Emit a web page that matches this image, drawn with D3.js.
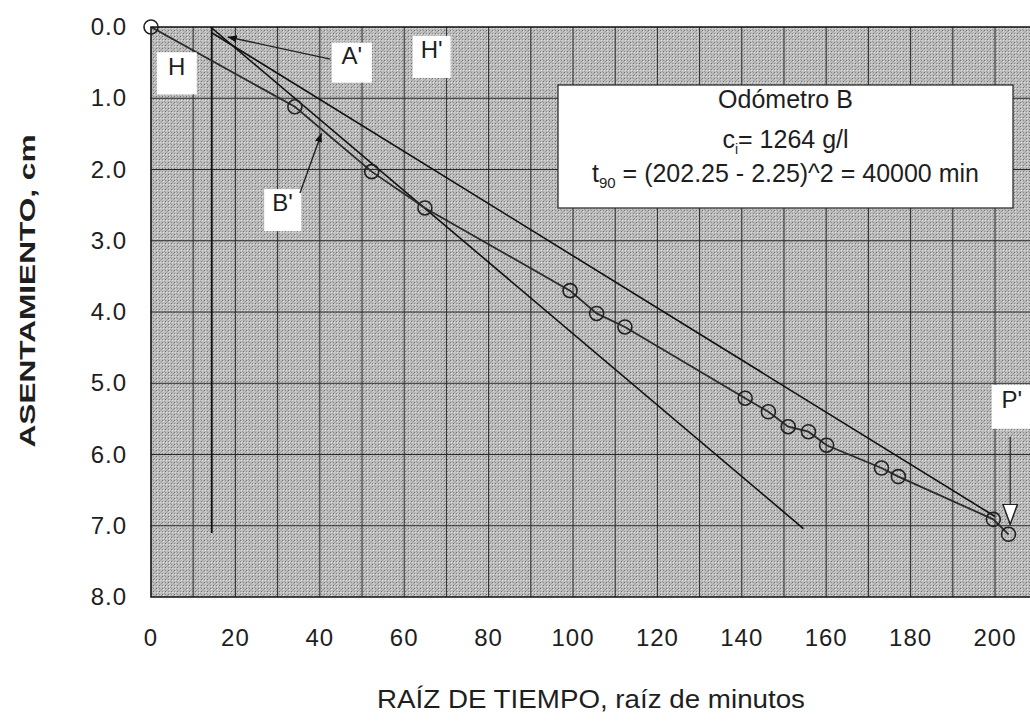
<!DOCTYPE html>
<html>
<head>
<meta charset="utf-8">
<script src="https://cdn.jsdelivr.net/npm/d3@7"></script>
<style>
  html, body { margin: 0; padding: 0; background: #ffffff; }
  svg { display: block; }
  text { font-family: "Liberation Sans", Arial, sans-serif; fill: #1e1e1e; }
</style>
</head>
<body>
<svg id="chart" width="1030" height="724"></svg>
<script>
// ---- data ----
const sqrtTime   = [0, 34.1, 52.3, 64.9, 99.3, 105.6, 112.3, 140.8, 146.3, 151.0, 155.8, 160.1, 173.1, 177.1, 199.6, 203.2];
const settlement = [0, 1.12, 2.03, 2.54, 3.70, 4.02, 4.21, 5.21, 5.40, 5.61, 5.68, 5.87, 6.19, 6.31, 6.91, 7.12];

const xTicks = [0, 20, 40, 60, 80, 100, 120, 140, 160, 180, 200];
const yTicks = [0, 1, 2, 3, 4, 5, 6, 7, 8];
const xGrid  = [10, 20, 30, 40, 50, 60, 70, 80, 90, 100, 110, 120, 130, 140, 150, 160, 170, 180, 190, 200];
const yGrid  = [1, 2, 3, 4, 5, 6, 7];

// construction lines (x = sqrt time, y = settlement)
const steepLineX    = [14.1, 154.6];
const steepLineY    = [0.0, 7.04];
const upperLineX    = [14.4, 200.0];
const upperLineY    = [0.08, 6.87];
const verticalLineX = [14.4, 14.4];
const verticalLineY = [0.0, 7.1];

// annotation labels
const labelNames = ["H", "A'", "H'", "B'", "P'"];
const labelX     = [6.1, 47.6, 66.5, 31.2, 204.0];
const labelY     = [0.65, 0.50, 0.42, 2.57, 5.33];

// arrows
const arrowAx = [42.5, 18.2];  const arrowAy = [0.45, 0.14];
const arrowBx = [35.3, 40.4];  const arrowBy = [2.33, 1.49];
const arrowPx = [203.6, 203.6]; const arrowPy = [5.75, 6.98];

const boxLines = ["Odómetro B", "c", "t"];

// ---- drawing ----
const svg = d3.select("#chart");
const x = d3.scaleLinear().domain([0, 200]).range([151, 995]);
const y = d3.scaleLinear().domain([0, 8]).range([27, 597]);
const xMax = 212;

const defs = svg.append("defs");
defs.append("clipPath").attr("id", "clip")
  .append("rect").attr("x", x(0)).attr("y", y(0))
  .attr("width", x(xMax) - x(0)).attr("height", y(8) - y(0));

// halftone-like background pattern (purely decorative texture)
const pat = defs.append("pattern").attr("id", "dither")
  .attr("width", 6).attr("height", 6).attr("patternUnits", "userSpaceOnUse");
pat.append("rect").attr("width", 6).attr("height", 6).attr("fill", "#bdbdbd");
[[0,0,"#6e6e6e"],[3,3,"#6e6e6e"],[3,0,"#8c8c8c"],[0,3,"#8c8c8c"],
 [1,1,"#d8d8d8"],[4,4,"#d8d8d8"],[5,1,"#999"],[2,5,"#999"],[1,4,"#e0e0e0"],[4,2,"#a0a0a0"]]
  .forEach(p => pat.append("rect").attr("x", p[0]).attr("y", p[1])
    .attr("width", 1).attr("height", 1).attr("fill", p[2]));

svg.append("rect")
  .attr("x", x(0)).attr("y", y(0))
  .attr("width", x(xMax) - x(0)).attr("height", y(8) - y(0))
  .attr("fill", "url(#dither)");

const plot = svg.append("g").attr("clip-path", "url(#clip)");

// gridlines
plot.selectAll("line.vg").data(xGrid).join("line").attr("class", "vg")
  .attr("x1", d => x(d)).attr("x2", d => x(d))
  .attr("y1", y(0)).attr("y2", y(8))
  .attr("stroke", "#2a2a2a").attr("stroke-width", 1);
plot.selectAll("line.hg").data(yGrid).join("line").attr("class", "hg")
  .attr("x1", x(0)).attr("x2", x(xMax))
  .attr("y1", d => y(d)).attr("y2", d => y(d))
  .attr("stroke", "#2a2a2a").attr("stroke-width", 1);

// frame (left, top, bottom)
svg.append("path")
  .attr("d", `M${x(xMax)},${y(0)} H${x(0)} V${y(8)} H${x(xMax)}`)
  .attr("fill", "none").attr("stroke", "#111").attr("stroke-width", 1.6);

// construction lines
function seg(xs, ys, w) {
  plot.append("line")
    .attr("x1", x(xs[0])).attr("y1", y(ys[0]))
    .attr("x2", x(xs[1])).attr("y2", y(ys[1]))
    .attr("stroke", "#111").attr("stroke-width", w);
}
seg(verticalLineX, verticalLineY, 1.8);
seg(steepLineX, steepLineY, 1.6);
seg(upperLineX, upperLineY, 1.6);

// data line
const pts = sqrtTime.map((d, i) => [d, settlement[i]]);
plot.append("path")
  .attr("d", d3.line().x(d => x(d[0])).y(d => y(d[1]))(pts))
  .attr("fill", "none").attr("stroke", "#2b2b2b").attr("stroke-width", 1.8);

// label boxes (white) with text
const lblW = [40, 40, 38, 37, 40];
const lblH = [42, 40, 42, 42, 44];
labelNames.forEach((t, i) => {
  const cx = x(labelX[i]), cy = y(labelY[i]);
  plot.append("rect")
    .attr("x", cx - lblW[i] / 2).attr("y", cy - lblH[i] / 2)
    .attr("width", lblW[i]).attr("height", lblH[i])
    .attr("fill", "#ffffff");
  plot.append("text")
    .attr("x", cx).attr("y", cy - 5)
    .attr("text-anchor", "middle").attr("dominant-baseline", "middle")
    .attr("font-size", 24).text(t);
});

// arrows
defs.append("marker").attr("id", "ah").attr("viewBox", "0 0 10 10")
  .attr("refX", 10).attr("refY", 5).attr("markerWidth", 9).attr("markerHeight", 9)
  .attr("markerUnits", "userSpaceOnUse").attr("orient", "auto")
  .append("path").attr("d", "M0,1 L10,5 L0,9 Z").attr("fill", "#111");
defs.append("marker").attr("id", "ahw").attr("viewBox", "0 0 12 12")
  .attr("refX", 11).attr("refY", 6).attr("markerWidth", 22).attr("markerHeight", 22)
  .attr("markerUnits", "userSpaceOnUse").attr("orient", "auto")
  .append("path").attr("d", "M0,2 L11,6 L0,10 Z")
  .attr("fill", "#ffffff").attr("stroke", "#222").attr("stroke-width", 0.8);

function arrow(xs, ys, m, w) {
  plot.append("line")
    .attr("x1", x(xs[0])).attr("y1", y(ys[0]))
    .attr("x2", x(xs[1])).attr("y2", y(ys[1]))
    .attr("stroke", "#222").attr("stroke-width", w)
    .attr("marker-end", `url(#${m})`);
}
arrow(arrowAx, arrowAy, "ah", 1.4);
arrow(arrowBx, arrowBy, "ah", 1.4);
arrow(arrowPx, arrowPy, "ahw", 1.2);

// data markers
svg.selectAll("circle.pt").data(pts).join("circle").attr("class", "pt")
  .attr("cx", d => x(d[0])).attr("cy", d => y(d[1]))
  .attr("r", 7)
  .attr("fill", "none").attr("stroke", "#222").attr("stroke-width", 1.6);

// info box
const bx0 = 558, by0 = 85, bx1 = 1013, by1 = 208;
svg.append("rect").attr("x", bx0).attr("y", by0)
  .attr("width", bx1 - bx0).attr("height", by1 - by0)
  .attr("fill", "#ffffff").attr("stroke", "#222").attr("stroke-width", 1.2);
const bcx = (bx0 + bx1) / 2;
svg.append("text").attr("x", bcx).attr("y", by0 + 23)
  .attr("text-anchor", "middle").attr("font-size", 25).text(boxLines[0]);
const t2 = svg.append("text").attr("x", bcx).attr("y", by0 + 63)
  .attr("text-anchor", "middle").attr("font-size", 25);
t2.append("tspan").text(boxLines[1]);
t2.append("tspan").attr("font-size", 14).attr("dy", 6).text("i");
t2.append("tspan").attr("dy", -6).text("= 1264 g/l");
const t3 = svg.append("text").attr("x", bcx).attr("y", by0 + 97)
  .attr("text-anchor", "middle").attr("font-size", 25);
t3.append("tspan").text(boxLines[2]);
t3.append("tspan").attr("font-size", 15).attr("dy", 6).text("90");
t3.append("tspan").attr("dy", -6).text(" = (202.25 - 2.25)^2 = 40000 min");

// axes tick labels
svg.selectAll("text.xt").data(xTicks).join("text").attr("class", "xt")
  .attr("x", d => x(d)).attr("y", 646)
  .attr("text-anchor", "middle").attr("font-size", 24)
  .attr("letter-spacing", 1).text(d => d);
svg.selectAll("text.yt").data(yTicks).join("text").attr("class", "yt")
  .attr("x", 127).attr("y", d => y(d) + 8)
  .attr("text-anchor", "end").attr("font-size", 24)
  .attr("letter-spacing", 1).text(d => d3.format(".1f")(d));

// axis titles
svg.append("text")
  .attr("x", 591).attr("y", 708)
  .attr("text-anchor", "middle").attr("font-size", 25)
  .attr("textLength", 428).attr("lengthAdjust", "spacingAndGlyphs")
  .text("RAÍZ DE TIEMPO,  raíz de minutos");
svg.append("text")
  .attr("transform", "translate(35,291) rotate(-90)")
  .attr("text-anchor", "middle").attr("font-size", 22).attr("font-weight", "bold")
  .attr("textLength", 313).attr("lengthAdjust", "spacingAndGlyphs")
  .text("ASENTAMIENTO,  cm");
</script>
</body>
</html>
